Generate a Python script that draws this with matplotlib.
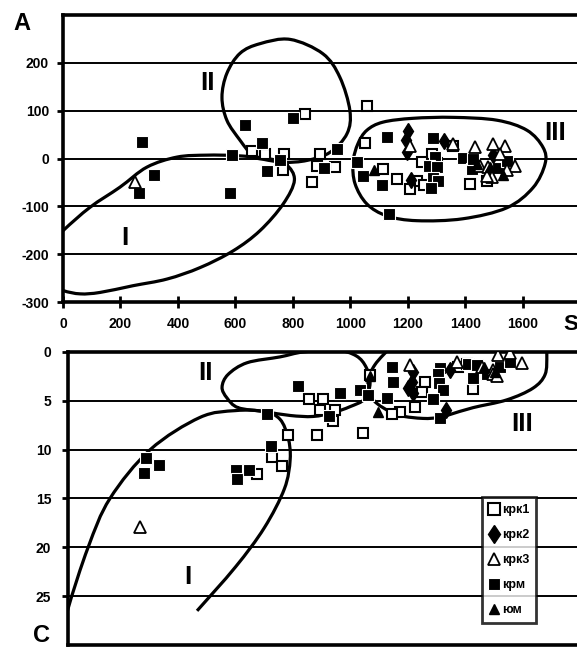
import numpy as np
import matplotlib
matplotlib.use('Agg')
from matplotlib import pyplot as plt
from matplotlib.path import Path
from matplotlib.patches import PathPatch
from matplotlib.lines import Line2D

plt.rcParams['font.family'] = ['Liberation Sans', 'DejaVu Sans']
plt.rcParams['font.weight'] = 'bold'
plt.rcParams['axes.unicode_minus'] = False

# ---- panel A (top) ----
a_krk1_x = [657, 703, 769, 766, 842, 894, 883, 946, 866, 1058, 1050, 1113, 1161, 1231, 1207,
            1283, 1249, 1256, 1357, 1416, 1475, 1300]
a_krk1_y = [15, 10, 10, -23, 92, 10, -15, -18, -50, 109, 33, -21, -42, -46, -63,
            10, -8, -55, 27, -53, -46, -10]
a_krk2_x = [1200, 1193, 1197, 1210, 1325, 1496]
a_krk2_y = [57, 38, 13, -44, 36, 8]
a_krk3_x = [250, 1207, 1357, 1433, 1496, 1537, 1450, 1478, 1572, 1492, 1544, 1475, 1520]
a_krk3_y = [-50, 27, 31, 23, 31, 27, -15, -17, -15, -38, -25, -36, 10]
a_krm_x = [275, 317, 265, 581, 588, 633, 693, 709, 755, 801, 953, 908, 1022, 1044, 1127,
           1110, 1135, 1287, 1294, 1273, 1300, 1287, 1304, 1280, 1391, 1423, 1426, 1513, 1544]
a_krm_y = [34, -34, -73, -73, 8, 71, 32, -27, -4, 85, 19, -20, -8, -37, 44,
           -55, -117, 42, 4, -15, -18, -40, -46, -61, 2, -21, 0, -19, -6]
a_yum_x = [1082, 1440, 1485, 1530]
a_yum_y = [-23, -12, -18, -35]

# ---- panel C (bottom) ----
c_krk1_x = [673, 726, 761, 783, 883, 1044, 856, 905, 894, 946, 940, 1068, 1172, 1144,
            1224, 1259, 1249, 1426, 1374, 1405]
c_krk1_y = [12.5, 10.7, 11.7, 8.5, 8.5, 8.3, 4.8, 4.8, 5.9, 5.9, 7.1, 2.4, 6.1, 6.3,
            5.6, 3.1, 4.1, 3.8, 1.5, 1.2]
c_krk2_x = [1217, 1213, 1200, 1217, 1332, 1346]
c_krk2_y = [2.0, 3.1, 3.7, 4.2, 5.9, 1.8]
c_krk3_x = [268, 1207, 1370, 1457, 1496, 1496, 1513, 1555, 1597, 1510]
c_krk3_y = [17.9, 1.3, 1.0, 1.5, 1.8, 2.3, 0.3, 0.1, 1.1, 2.5]
c_krm_x = [288, 334, 283, 601, 605, 648, 709, 723, 817, 963, 925, 1033, 1061, 1144, 1148,
           1127, 1311, 1304, 1308, 1322, 1287, 1311, 1409, 1440, 1426, 1475, 1520, 1555]
c_krm_y = [10.9, 11.6, 12.4, 12.1, 13.0, 12.1, 6.3, 9.6, 3.5, 4.2, 6.6, 3.9, 4.4, 1.5, 3.1,
           4.7, 1.6, 2.3, 3.2, 3.9, 4.8, 6.8, 1.2, 1.3, 2.7, 2.3, 1.5, 1.0]
c_yum_x = [1096, 1068, 1464, 1503]
c_yum_y = [6.1, 2.5, 1.5, 2.0]

# outlines of groups (hand drawn)
a_zone1 = [(-80, -200), (0, -151), (94, -102), (198, -60), (292, -18), (397, 3), (500, 7),
           (600, 6), (710, 0), (775, -12), (805, -45), (766, -95), (685, -151), (592, -193),
           (477, -228), (362, -252), (243, -266), (129, -280), (60, -283), (0, -276), (-60, -260)]
a_zone2 = [(616, 38), (570, 80), (553, 128), (570, 178), (616, 220), (685, 240), (790, 249),
           (904, 219), (963, 170), (998, 100), (988, 52), (929, 13), (849, -4), (770, -8),
           (700, -2), (661, 5)]
a_zone3 = [(1009, -8), (1016, -53), (1057, -95), (1127, -120), (1231, -130), (1391, -126),
           (1544, -103), (1635, -61), (1677, -11), (1670, 23), (1614, 59), (1510, 80),
           (1357, 86), (1217, 84), (1113, 76), (1057, 59), (1026, 31)]
c_zone1 = [(-10, 30), (17, 26.3), (87, 20), (163, 15), (303, 10), (476, 6.7), (600, 6.0),
           (700, 6.1), (755, 6.9), (783, 8.8), (790, 11), (770, 14), (700, 18), (600, 22),
           (466, 26.5)]
c_zone2 = [(609, 5.7), (570, 4.7), (553, 3.6), (574, 2.3), (640, 1.1), (755, 0.5), (835, 0.0),
           (950, -0.2), (1020, 0.4), (1055, 1.6), (1068, 3.2), (1050, 4.8), (998, 5.6),
           (940, 6.2), (870, 6.6), (790, 6.5), (700, 6.1)]
c_zone3 = [(1140, -0.5), (1085, 1.3), (1061, 3.0), (1075, 4.7), (1113, 5.7), (1172, 6.5),
           (1252, 6.8), (1311, 6.7), (1346, 6.4), (1426, 5.7), (1544, 4.9), (1635, 3.7),
           (1677, 2.3), (1683, 0.3), (1680, -1)]


def smooth_path(pts, closed):
    P = np.array(pts, float)
    if closed:
        E = np.vstack([P[-1], P, P[0], P[1]])
    else:
        E = np.vstack([P[0], P, P[-1]])
    verts = [E[1]]
    codes = [Path.MOVETO]
    for i in range(1, len(E) - 2):
        p0, p1, p2, p3 = E[i - 1], E[i], E[i + 1], E[i + 2]
        verts += [p1 + (p2 - p0) / 6, p2 - (p3 - p1) / 6, p2]
        codes += [Path.CURVE4] * 3
    return Path(verts, codes)


def zone(ax, pts, closed=True):
    ax.add_patch(PathPatch(smooth_path(pts, closed), fill=False, lw=2.3, ec='black', zorder=3))


styles = {
    'krk1': dict(marker='s', mfc='white', mec='black', ms=7.5, mew=1.5),
    'krk2': dict(marker='d', mfc='black', mec='black', ms=8.5, mew=1),
    'krk3': dict(marker='^', mfc='white', mec='black', ms=8, mew=1.3),
    'krm': dict(marker='s', mfc='black', mec='white', ms=8, mew=0.8),
    'yum': dict(marker='^', mfc='black', mec='black', ms=7, mew=1),
}

roman = dict(fontsize=19, ha='center', va='center',
             family=['Liberation Sans Narrow', 'Liberation Sans', 'DejaVu Sans'])


def points(ax, x, y, key):
    ax.plot(x, y, ls='none', zorder=4, **styles[key])


fig = plt.figure(figsize=(5.77, 6.47), dpi=100)
W, H = 577.0, 647.0

# top panel
ax1 = fig.add_axes([63 / W, 1 - 302 / H, 1 - 63 / W, (302 - 15) / H])
ax1.set_xlim(0, 1788)
ax1.set_ylim(-300, 300)
ax1.set_yticks([-300, -200, -100, 0, 100, 200])
ax1.set_xticks([0, 200, 400, 600, 800, 1000, 1200, 1400, 1600])
ax1.yaxis.grid(True, color='black', lw=1.4)
ax1.tick_params(axis='x', direction='inout', length=8, width=2, pad=7, labelsize=10)
ax1.tick_params(axis='y', direction='out', length=4, width=2, pad=6, labelsize=10)
zone(ax1, a_zone1)
zone(ax1, a_zone2)
zone(ax1, a_zone3)
points(ax1, a_krk1_x, a_krk1_y, 'krk1')
points(ax1, a_krm_x, a_krm_y, 'krm')
points(ax1, a_krk2_x, a_krk2_y, 'krk2')
points(ax1, a_krk3_x, a_krk3_y, 'krk3')
points(ax1, a_yum_x, a_yum_y, 'yum')
ax1.text(501, 157, 'II', **roman)
ax1.text(216, -167, 'I', **roman)
ax1.text(1711, 54, 'III', **roman)

# bottom panel
ax2 = fig.add_axes([68 / W, 1 - 645 / H, 1 - 68 / W, (645 - 352) / H])
ax2.set_xlim(17, 1788)
ax2.set_ylim(30, 0)
ax2.set_yticks([0, 5, 10, 15, 20, 25])
ax2.set_xticks([])
ax2.yaxis.grid(True, color='black', lw=1.4)
ax2.tick_params(axis='y', direction='out', length=4, width=2, pad=8, labelsize=10)
zone(ax2, c_zone1, closed=False)
zone(ax2, c_zone2)
zone(ax2, c_zone3, closed=False)
points(ax2, c_krk1_x, c_krk1_y, 'krk1')
points(ax2, c_krm_x, c_krm_y, 'krm')
points(ax2, c_krk2_x, c_krk2_y, 'krk2')
points(ax2, c_krk3_x, c_krk3_y, 'krk3')
points(ax2, c_yum_x, c_yum_y, 'yum')
ax2.text(494, 2.1, 'II', **roman)
ax2.text(1597, 7.4, 'III', **roman)
ax2.text(435, 23, 'I', **roman)

for ax in (ax1, ax2):
    ax.set_axisbelow(True)
    ax.spines['right'].set_visible(False)
    for s in ('left', 'top', 'bottom'):
        ax.spines[s].set_linewidth(2.6)

labels = ['крк1', 'крк2', 'крк3', 'крм', 'юм']
handles = [Line2D([], [], ls='none', **styles[k]) for k in ['krk1', 'krk2', 'krk3', 'krm', 'yum']]
leg = ax2.legend(handles, labels, loc='upper left', bbox_to_anchor=(482 / W, 1 - 497 / H),
                 bbox_transform=fig.transFigure, fontsize=9, frameon=True, fancybox=False,
                 labelspacing=1.05, handlelength=0.9, handletextpad=0.15, borderpad=0.55,
                 borderaxespad=0, markerscale=1.1)
leg.get_frame().set_edgecolor('black')
leg.get_frame().set_linewidth(2)
leg.set_zorder(10)

fig.text(22 / W, 1 - 24 / H, 'A', fontsize=17, ha='center', va='center')
fig.text(42 / W, 1 - 636 / H, 'C', fontsize=17, ha='center', va='center')
fig.text(563 / W, 1 - 325 / H, 'S', fontsize=16, ha='left', va='center')

fig.savefig('out.png', dpi=100)
